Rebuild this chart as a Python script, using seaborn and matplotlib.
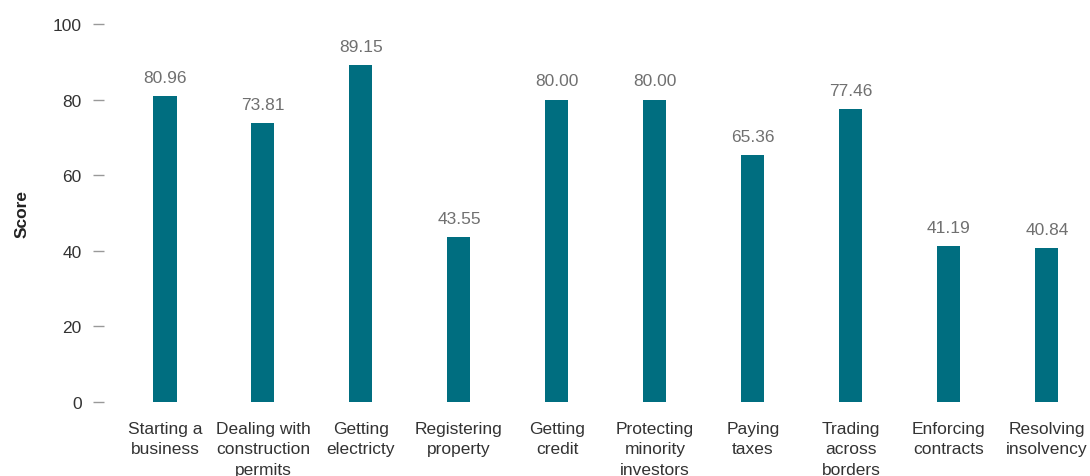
import matplotlib
matplotlib.use("Agg")
import matplotlib.pyplot as plt
import seaborn as sns
import pandas as pd

categories = ["Starting a\nbusiness", "Dealing with\nconstruction\npermits", "Getting\nelectricty",
              "Registering\nproperty", "Getting\ncredit", "Protecting\nminority\ninvestors",
              "Paying\ntaxes", "Trading\nacross\nborders", "Enforcing\ncontracts", "Resolving\ninsolvency"]
scores = [80.96, 73.81, 89.15, 43.55, 80.00, 80.00, 65.36, 77.46, 41.19, 40.84]
yticks = [0, 20, 40, 60, 80, 100]

sns.set_style("white")
plt.rcParams['font.family'] = ['Liberation Sans', 'DejaVu Sans']

df = pd.DataFrame({"category": categories, "score": scores})

fig = plt.figure(figsize=(10.9, 4.77), dpi=100)
ax = fig.add_axes([116/1090, 74/477, 1 - 116/1090, (403-25)/477])

sns.barplot(data=df, x="category", y="score", color="#006e80", width=0.235,
            saturation=1, linewidth=0, ax=ax)

for c in ax.containers:
    ax.bar_label(c, fmt="%.2f", padding=8, color="#707070", fontsize=12.5)

ax.set_ylim(0, 100)
ax.set_xlim(-0.5, 9.44)
ax.set_yticks(yticks)
ax.set_yticklabels([str(t) for t in yticks])
for s in ax.spines.values():
    s.set_visible(False)
ax.spines['left'].set_position(('outward', 8.6))
ax.tick_params(axis='y', which='both', left=True, direction='out', length=8, width=1,
               color="#999999", pad=8, labelsize=12.5, labelcolor="#333333")
ax.tick_params(axis='x', bottom=False, pad=10, labelsize=12.5, labelcolor="#333333")
for lbl in ax.get_xticklabels():
    lbl.set_linespacing(1.45)
ax.set_xlabel("")
ax.set_ylabel("Score", fontsize=12.5, fontweight="bold", color="#222222", labelpad=17)
ax.grid(False)

fig.savefig("out.png", dpi=100)
